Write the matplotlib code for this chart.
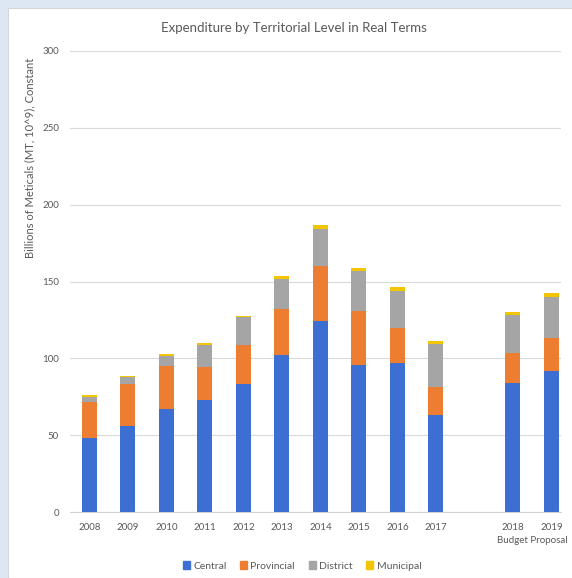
import numpy as np
import matplotlib
matplotlib.use("Agg")
import matplotlib.pyplot as plt
from matplotlib.patches import Rectangle, Patch

# values (billions of MT, constant)
years = ["2008", "2009", "2010", "2011", "2012", "2013", "2014",
         "2015", "2016", "2017", "2018", "2019"]
central = [48.3, 56.2, 66.8, 72.7, 83.5, 101.9, 124.0, 95.6, 97.2, 63.1, 84.1, 91.9]
provincial = [23.5, 26.9, 28.2, 21.8, 24.9, 30.1, 36.3, 35.0, 22.8, 18.0, 19.5, 21.5]
district = [3.2, 4.7, 6.7, 14.4, 18.3, 19.6, 23.7, 26.4, 23.8, 28.0, 24.4, 26.7]
municipal = [1.2, 1.0, 1.2, 1.2, 1.1, 1.9, 2.7, 2.0, 2.4, 2.4, 2.3, 2.6]
budget_years = ["2018", "2019"]

series = [("Central", central, "#3D6FD2"),
          ("Provincial", provincial, "#ED7D31"),
          ("District", district, "#A5A5A5"),
          ("Municipal", municipal, "#F2C500")]

plt.rcParams['font.family'] = ['Lato', 'DejaVu Sans']
txt = "#595959"

W, H = 572, 578
fig = plt.figure(figsize=(W / 100, H / 100), dpi=100, facecolor="#DCE7F3")
fig.patches.append(Rectangle((8 / W, 0), 1, 1 - 8 / H, transform=fig.transFigure,
                             facecolor="white", edgecolor="#D6D6D6", lw=0.8, zorder=-5))

ax = fig.add_axes([70 / W, 66 / H, 491 / W, 461 / H])
ax.set_facecolor("none")
ax.set_zorder(2)

# one empty slot before the budget years
pos = np.arange(len(years)) + np.array([1 if y in budget_years else 0 for y in years])

bottom = np.zeros(len(years))
for name, vals, col in series:
    vals = np.array(vals)
    ax.bar(pos, vals, 0.39, bottom=bottom, color=col, label=name, zorder=3)
    bottom += vals

ax.set_xlim(-0.506, 12.25)
ax.set_ylim(0, 300)
ax.set_yticks(np.arange(0, 301, 50))
ax.set_xticks(pos)
ax.set_xticklabels(years)
ax.tick_params(length=0, labelsize=7, labelcolor=txt, pad=8)
ax.grid(axis="y", color="#DADADA", lw=0.8, zorder=0)
for s in ["top", "right", "left"]:
    ax.spines[s].set_visible(False)
ax.spines["bottom"].set_color("#D0D0D0")
ax.spines["bottom"].set_linewidth(0.8)

mid = pos[[years.index(y) for y in budget_years]].mean()
ax.text(mid, -0.061, "Budget Proposal", transform=ax.get_xaxis_transform(),
        ha="center", va="center", fontsize=7, color=txt)

fig.text(294 / W, 1 - 28 / H, "Expenditure by Territorial Level in Real Terms",
         ha="center", va="center", fontsize=9.5, color=txt)
fig.text(30 / W, 1 - 158 / H, "Billions of Meticals (MT, 10^9), Constant",
         rotation=90, ha="center", va="center", fontsize=8, color=txt)

handles = [Patch(color=c, label=n) for n, _, c in series]
fig.legend(handles=handles, loc="center", bbox_to_anchor=(302 / W, 1 - 566 / H),
           ncol=4, frameon=False, fontsize=7.5, handlelength=0.7, handleheight=0.7,
           handletextpad=0.3, columnspacing=1.3, labelcolor=txt)

fig.savefig("out.png", dpi=100, facecolor=fig.get_facecolor())
